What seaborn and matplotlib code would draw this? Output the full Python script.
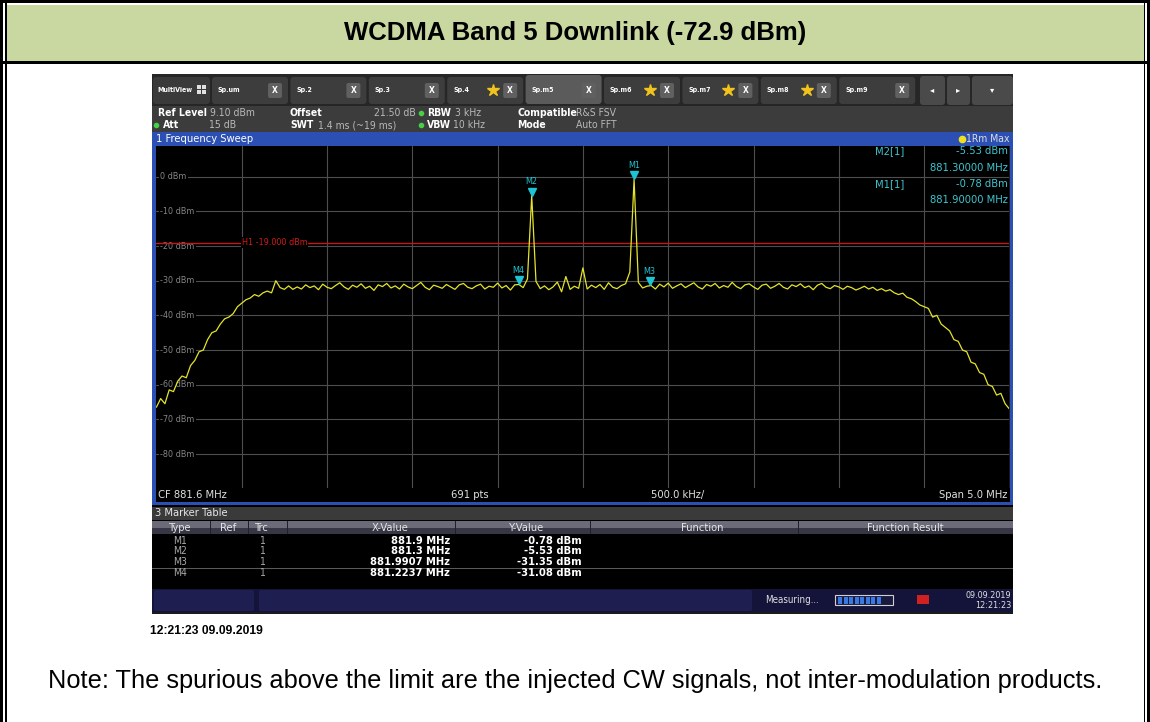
import numpy as np
import pandas as pd
import matplotlib
matplotlib.use("Agg")
import matplotlib.pyplot as plt
import seaborn as sns
from matplotlib import font_manager
from matplotlib.patches import Rectangle, FancyBboxPatch

# ---- values ----
title = "WCDMA Band 5 Downlink (-72.9 dBm)"
note = "Note: The spurious above the limit are the injected CW signals, not inter-modulation products."
stamp = "12:21:23 09.09.2019"

cf_mhz = 881.6
span_mhz = 5.0

# trace level read every 25 kHz from 879.1 to 884.1 MHz (201 readings)
level_dbm = [
    -66.5, -64.0, -65.5, -61.5, -62.0, -59.0, -57.5, -58.0, -54.5, -53.0,
    -50.5, -50.0, -47.0, -45.0, -44.5, -42.5, -41.0, -40.5, -39.5, -37.5,
    -36.5, -35.5, -35.0, -34.0, -34.5, -33.5, -33.0, -33.5, -30.0, -32.0,
    -32.5, -31.5, -32.5, -31.8, -32.4, -31.2, -32.0, -31.5, -32.6, -31.0,
    -31.9, -32.3, -31.4, -30.6, -31.8, -32.5, -31.3, -31.9, -30.9, -32.2,
    -31.6, -32.8, -31.2, -31.7, -30.8, -32.1, -31.5, -32.4, -31.0, -31.8,
    -32.3, -31.4, -30.5, -31.9, -32.6, -31.3, -31.7, -32.2, -31.1, -31.8,
    -32.5, -31.2, -30.8, -31.9, -32.3, -31.5, -31.0, -32.4, -31.6, -31.9,
    -30.7, -32.1, -31.4, -32.7, -31.2, -31.1, -32.0, -29.5, -5.5, -30.2,
    -32.3, -31.5, -32.6, -31.8, -30.4, -33.2, -28.8, -32.5, -31.6, -32.2,
    -26.3, -32.4, -31.3, -32.0, -31.1, -32.5, -30.6, -31.9, -32.3, -31.4,
    -30.9, -27.5, -0.8, -30.5, -32.1, -31.6, -31.4, -32.4, -31.0, -31.8,
    -30.7, -32.2, -31.5, -30.9, -32.0, -31.3, -30.6, -31.8, -32.4, -31.1,
    -31.6, -30.8, -32.1, -31.4, -31.9, -30.5, -31.7, -32.3, -31.2, -30.9,
    -31.8, -32.5, -31.3, -31.0, -32.2, -31.6, -30.8, -31.9, -32.4, -31.2,
    -31.7, -30.9, -32.0, -31.5, -32.6, -31.3, -30.8, -31.9, -32.3, -31.4,
    -31.8, -32.5, -31.6, -32.0, -32.7, -32.2, -31.6, -32.4, -31.9, -32.8,
    -32.3, -33.0, -32.6, -33.5, -34.0, -33.6, -34.8, -35.2, -36.0, -37.0,
    -37.5, -38.0, -40.5, -40.0, -42.5, -43.5, -44.5, -47.0, -47.5, -50.0,
    -50.5, -53.5, -54.0, -56.5, -57.0, -60.0, -60.5, -63.0, -62.5, -65.5,
    -67.0,
]

y_grid = [0, -10, -20, -30, -40, -50, -60, -70, -80]
limit_dbm = -19.0

marker_names = ["M1", "M2", "M3", "M4"]
marker_freq = [881.9, 881.3, 881.9907, 881.2237]
marker_level = [-0.78, -5.53, -31.35, -31.08]
marker_x_text = ["881.9 MHz", "881.3 MHz", "881.9907 MHz", "881.2237 MHz"]
marker_y_text = ["-0.78 dBm", "-5.53 dBm", "-31.35 dBm", "-31.08 dBm"]

tab_names = ["Sp.um", "Sp.2", "Sp.3", "Sp.4", "Sp.m5", "Sp.m6", "Sp.m7", "Sp.m8", "Sp.m9"]
tab_star = [False, False, False, True, False, True, True, True, False]
table_cols = ["Type", "Ref", "Trc", "X-Value", "Y-Value", "Function", "Function Result"]

freq_mhz = np.linspace(cf_mhz - span_mhz / 2, cf_mhz + span_mhz / 2, len(level_dbm))
df = pd.DataFrame({"freq": freq_mhz, "level": level_dbm})

sns.set_theme(style="dark")
fonts = font_manager.fontManager.ttflist
names = {f.name for f in fonts}
if "Liberation Sans Narrow" in names:
    UI, STRETCH = "Liberation Sans Narrow", "normal"
elif any(f.name == "DejaVu Sans" and f.stretch == "condensed" for f in fonts):
    UI, STRETCH = "DejaVu Sans", "condensed"
else:
    UI, STRETCH = "DejaVu Sans", "normal"
DOC = "Liberation Sans"
plt.rcParams["font.family"] = [DOC, "DejaVu Sans"]

W, H = 1150, 722
fig = plt.figure(figsize=(W / 100, H / 100), dpi=100)
fig.patch.set_facecolor("white")

bg = fig.add_axes([0, 0, 1, 1])
bg.set_xlim(0, W)
bg.set_ylim(H, 0)
bg.axis("off")


def box(x0, y0, x1, y1, fc, z=1, ec="none", lw=0):
    bg.add_patch(Rectangle((x0, y0), x1 - x0, y1 - y0, facecolor=fc,
                           edgecolor=ec, linewidth=lw, zorder=z))


def rbox(x0, y0, x1, y1, fc, z=2, r=3):
    bg.add_patch(FancyBboxPatch((x0 + r, y0 + r), x1 - x0 - 2 * r, y1 - y0 - 2 * r,
                                boxstyle=f"round,pad={r}", facecolor=fc,
                                edgecolor="none", zorder=z))


def put(x, y, s, size, color="white", ha="left", weight="normal", family=None):
    if family is None:
        fig.text(x / W, 1 - y / H, s, fontsize=size, color=color, ha=ha, va="center",
                 fontweight=weight, family=UI, fontstretch=STRETCH, zorder=10)
    else:
        fig.text(x / W, 1 - y / H, s, fontsize=size, color=color, ha=ha, va="center",
                 fontweight=weight, family=family, zorder=10)


# ---- document frame ----
box(0, 0, W, 3, "black")
box(6, 5, 1144, 61, "#c9d7a1")
box(0, 61, W, 63.5, "black")
box(0, 0, 3, H, "black")
box(5, 0, 6.5, H, "black")
box(1147, 0, W, H, "black")
box(1143.5, 0, 1145, H, "black")
put(575, 33, title, 18.5, color="black", ha="center", weight="bold", family=DOC)

# ---- analyzer screen ----
box(152, 74, 1013, 614, "#1b1b1b")
box(152, 74, 1013, 106, "#262626")

rbox(153, 77, 210, 104, "#3a3a3a")
put(157, 90, "MultiView", 5, weight="bold")
for dx in (0, 5):
    for dy in (0, 5):
        box(197 + dx, 85 + dy, 201 + dx, 89 + dy, "#e0e0e0", z=3)

for k, name in enumerate(tab_names):
    x0 = 212 + k * 78.4
    x1 = x0 + 76
    rbox(x0, 77 if name != "Sp.m5" else 75, x1, 104, "#5b5b5b" if name == "Sp.m5" else "#3d3d3d")
    put(x0 + 6, 90, name, 5, weight="bold")
    rbox(x1 - 20, 83, x1 - 6, 98, "#606060", z=3, r=2)
    put(x1 - 13, 90.5, "X", 6, ha="center", weight="bold")
    if tab_star[k]:
        bg.plot(x1 - 30, 90, marker="*", color="#f2c31c", ms=9, zorder=4)

for (x0, x1, g) in [(920, 945, "\u25c2"), (947, 970, "\u25b8"), (972, 1013, "\u25be")]:
    rbox(x0, 76, x1, 105, "#4a4a4a")
    put((x0 + x1) / 2, 90, g, 6, ha="center", family="DejaVu Sans")

box(152, 106, 1013, 132, "#3c3c3c")
info_gray = "#b8b8b8"
fs = 7.5
put(158, 113, "Ref Level", fs, weight="bold")
put(210, 113, "9.10 dBm", fs, color=info_gray)
put(290, 113, "Offset", fs, weight="bold")
put(416, 113, "21.50 dB", fs, color=info_gray, ha="right")
put(427, 113, "RBW", fs, weight="bold")
put(455, 113, "3 kHz", fs, color=info_gray)
put(517, 113, "Compatible", fs, weight="bold")
put(576, 113, "R&S FSV", fs, color=info_gray)
put(163, 125, "Att", fs, weight="bold")
put(236, 125, "15 dB", fs, color=info_gray, ha="right")
put(290, 125, "SWT", fs, weight="bold")
put(318, 125, "1.4 ms (~19 ms)", fs, color=info_gray)
put(427, 125, "VBW", fs, weight="bold")
put(453, 125, "10 kHz", fs, color=info_gray)
put(517, 125, "Mode", fs, weight="bold")
put(576, 125, "Auto FFT", fs, color=info_gray)
for (x, y) in [(421, 113), (156, 125), (421, 125)]:
    bg.plot(x, y, "o", color="#46d046", ms=3, zorder=4)

blue = "#2c4fb4"
box(152, 132, 1013, 146, blue)
put(156, 139, "1 Frequency Sweep", 8)
bg.plot(962, 139, "o", color="#f0e020", ms=4.5, zorder=4)
put(1009, 139, "1Rm Max", 7.5, color="#dcdcdc", ha="right")
box(152, 132, 156, 505, blue)
box(1009.5, 146, 1013, 505, blue)
box(152, 502, 1013, 505, blue)
box(156, 488, 1009.5, 502, "black")
put(158, 495, "CF 881.6 MHz", 8, color="#e0e0e0")
put(470, 495, "691 pts", 8, color="#e0e0e0", ha="center")
put(651, 495, "500.0 kHz/", 8, color="#e0e0e0")
put(1007, 495, "Span 5.0 MHz", 8, color="#e0e0e0", ha="right")

# marker table
box(152, 505, 1013, 589, "black")
box(152, 507, 1013, 520, "#3a3a3a")
put(155, 513.5, "3 Marker Table", 8, color="#e6e6e6")
box(152, 521, 1013, 527.5, "#6a6a78")
box(152, 527.5, 1013, 534, "#363645")
for x in (210, 248, 287, 455, 590, 798):
    box(x, 521, x + 1, 534, "#202028", z=2)
col_x = [180, 228, 262, 390, 527, 702, 905]
for x, c in zip(col_x, table_cols):
    put(x, 528, c, 8, color="#e6e6e6", ha="center")
row_y = [541, 551.5, 562, 573.5]
box(152, 567.5, 1013, 568.5, "#5a5a5a", z=2)
for k in range(4):
    put(180, row_y[k], marker_names[k], 7.5, color="#a8a8a8", ha="center")
    put(262, row_y[k], "1", 7.5, color="#a8a8a8", ha="center")
    put(450, row_y[k], marker_x_text[k], 8, ha="right", weight="bold")
    put(582, row_y[k], marker_y_text[k], 8, ha="right", weight="bold")

# status bar
box(152, 589, 1013, 612, "#14143a")
rbox(154, 590, 254, 611, "#1e1e50", z=2, r=2)
rbox(259, 590, 752, 611, "#1e1e50", z=2, r=2)
put(765, 600, "Measuring...", 7, color="#e0e0e0")
box(835, 595, 893, 605, "#1a1a40", ec="#d0d0d0", lw=0.8, z=2)
for j in range(8):
    box(838 + j * 5.5, 596.5, 842 + j * 5.5, 603.5, "#3a7ae0", z=3)
box(917, 595, 929, 604, "#d02020", z=2)
put(1011, 595.5, "09.09.2019", 6.5, color="#e0e0e0", ha="right")
put(1011, 605, "12:21:23", 6.5, color="#e0e0e0", ha="right")

# text under the screenshot
put(150, 631, stamp, 8.7, color="black", weight="bold", family=DOC)
put(575, 681, note, 18.3, color="black", ha="center", family=DOC)

# ---- spectrum ----
ax = fig.add_axes([156.4 / W, 1 - 488 / H, 853 / W, (488 - 146) / H])
ax.set_facecolor("black")
f0, f1 = cf_mhz - span_mhz / 2, cf_mhz + span_mhz / 2
ax.set_xlim(f0, f1)
ax.set_ylim(-89.8, 8.85)
for v in y_grid:
    ax.axhline(v, color="#4e4e4e", lw=0.8, zorder=1)
for k in range(1, 10):
    ax.axvline(f0 + k * span_mhz / 10, color="#4e4e4e", lw=0.8, zorder=1)
for v in y_grid:
    ax.text(f0 + 0.022, v, f"{v} dBm", color="#858585", fontsize=6.5, va="center",
            family=UI, fontstretch=STRETCH, zorder=2,
            bbox=dict(fc="black", ec="none", pad=1.2))

ax.axhline(limit_dbm, color="#c41616", lw=1.0, zorder=2)
ax.text(f0 + span_mhz / 10, limit_dbm, "H1 -19.000 dBm", color="#d21a1a", fontsize=6.5,
        va="center", family=UI, fontstretch=STRETCH, zorder=3,
        bbox=dict(fc="black", ec="none", pad=0.8))

sns.lineplot(data=df, x="freq", y="level", ax=ax, color="#e4e42a", lw=0.9,
             estimator=None, zorder=4)

cyan = "#1cc4d4"
for name, f, l in zip(marker_names, marker_freq, marker_level):
    ax.plot(f, l + 1.2, marker="v", color=cyan, ms=6, zorder=6)
    ax.annotate(name, (f, l), xytext=(0, 10), textcoords="offset points",
                ha="center", va="center", color=cyan, fontsize=6.5, family=UI,
                fontstretch=STRETCH, zorder=6)

ax.set_xlabel("")
ax.set_ylabel("")
ax.set_xticks([])
ax.set_yticks([])
for s in ax.spines.values():
    s.set_visible(False)

info = "#3cc6d0"
put(875, 151, "M2[1]", 8, color=info)
put(1008, 151, "-5.53 dBm", 8, color=info, ha="right")
put(1008, 168, "881.30000 MHz", 8, color=info, ha="right")
put(875, 184, "M1[1]", 8, color=info)
put(1008, 184, "-0.78 dBm", 8, color=info, ha="right")
put(1008, 200, "881.90000 MHz", 8, color=info, ha="right")

fig.savefig("out.png", dpi=100, facecolor="white")
